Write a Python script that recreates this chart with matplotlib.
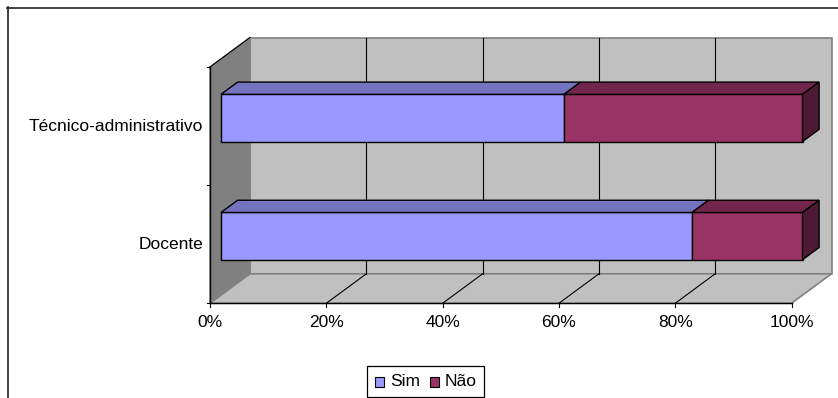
import matplotlib
matplotlib.use("Agg")
import matplotlib.pyplot as plt
from matplotlib.patches import Polygon, Rectangle
from matplotlib.lines import Line2D

# ---- data ----
categories = ["Docente", "Técnico-administrativo"]
sim = [81, 59]
nao = [19, 41]
series_names = ["Sim", "Não"]
x_ticks = [0, 20, 40, 60, 80, 100]
x_tick_labels = ["0%", "20%", "40%", "60%", "80%", "100%"]

# ---- styles ----
front_cols = ["#9999FF", "#993366"]
top_cols = ["#7373BF", "#73264D"]
side_cols = ["#4D4D80", "#4D1A33"]
W, H = 838, 398
FONT = "Liberation Sans"
FS = 12.5

fig = plt.figure(figsize=(W / 100, H / 100), dpi=100)
fig.patch.set_facecolor("white")

# axes covering the front plane of the plot area (pixel placement)
x0, x1 = 210, 791.5
ytop, ybot = 67, 303.3
ax = fig.add_axes([x0 / W, 1 - ybot / H, (x1 - x0) / W, (ybot - ytop) / H])
ax.set_xlim(0, 100)
ax.set_ylim(0, 2)
ax.axis("off")

DX = 40 / ((x1 - x0) / 100)   # depth offset in x units
DY = 29.5 / ((ybot - ytop) / 2)  # depth offset in y units


def P(x, y, d):
    return (x + d * DX, y + d * DY)


def poly(pts, fc, ec, lw=0.8, z=1):
    ax.add_patch(Polygon(pts, closed=True, facecolor=fc, edgecolor=ec,
                         linewidth=lw, clip_on=False, zorder=z))


def line(p, q, c="black", lw=0.8, z=2):
    ax.add_line(Line2D([p[0], q[0]], [p[1], q[1]], color=c, linewidth=lw,
                       clip_on=False, zorder=z))


# back wall
poly([P(0, 0, 1), P(100, 0, 1), P(100, 2, 1), P(0, 2, 1)], "#C0C0C0", "#808080", lw=1.2)
# side wall
poly([P(0, 0, 0), P(0, 0, 1), P(0, 2, 1), P(0, 2, 0)], "#808080", "#808080", lw=1.0)
# floor
poly([P(0, 0, 0), P(100, 0, 0), P(100, 0, 1), P(0, 0, 1)], "#C0C0C0", "#808080", lw=1.2)

# gridlines on back wall and floor
for v in x_ticks[1:-1]:
    line(P(v, 0, 1), P(v, 2, 1), "black", 0.8, 1.5)
    line(P(v, 0, 0), P(v, 0, 1), "black", 0.8, 1.5)
line(P(0, 2, 0), P(0, 2, 1), "black", 0.8, 1.5)

# axis lines
line(P(0, 0, 0), P(0, 2, 0), "black", 1.0, 3)
line(P(0, 0, 0), P(100, 0, 0), "black", 1.0, 3)

# ticks
tx = 3 / ((x1 - x0) / 100)
ty = 4 / ((ybot - ytop) / 2)
for yv in [0, 1, 2]:
    line((0, yv), (-tx, yv), "black", 0.8, 3)
for v, lab in zip(x_ticks, x_tick_labels):
    line((v, 0), (v, -ty), "black", 0.8, 3)
    ax.text(v, -0.163, lab, ha="center", va="center",
            fontsize=FS, family=FONT, clip_on=False)

# category labels
for i, c in enumerate(categories):
    ax.text(-1.15, i + 0.5 - 0.005, c, ha="right", va="center", fontsize=FS,
            family=FONT, clip_on=False)

# bars
bh = 0.4
df, db = 0.275, 0.69
for i in range(len(categories)):
    yc = i + 0.5
    y_lo, y_hi = yc - bh / 2, yc + bh / 2
    left = 0
    vals = [sim[i], nao[i]]
    for s, v in enumerate(vals):
        right = left + v
        # front face
        poly([P(left, y_lo, df), P(right, y_lo, df), P(right, y_hi, df), P(left, y_hi, df)],
             front_cols[s], "black", 1.0, 5)
        # top face
        poly([P(left, y_hi, df), P(right, y_hi, df), P(right, y_hi, db), P(left, y_hi, db)],
             top_cols[s], "black", 1.0, 5)
        if s == len(vals) - 1:
            poly([P(right, y_lo, df), P(right, y_lo, db), P(right, y_hi, db), P(right, y_hi, df)],
                 side_cols[s], "black", 1.0, 5)
        left = right

# outer chart border (top and left visible)
fig.add_artist(Line2D([7 / W, 1.0], [1 - 7.5 / H, 1 - 7.5 / H], color="#222222",
                      linewidth=1.2, transform=fig.transFigure))
fig.add_artist(Line2D([7.5 / W, 7.5 / W], [1 - 7 / H, 0.0], color="#222222",
                      linewidth=1.2, transform=fig.transFigure))

# legend
lx0, lx1, ly0, ly1 = 367, 484, 366, 397
fig.add_artist(Rectangle((lx0 / W, 1 - ly1 / H), (lx1 - lx0) / W, (ly1 - ly0) / H,
                         facecolor="white", edgecolor="black", linewidth=0.9,
                         transform=fig.transFigure))
items = [(375, 390, series_names[0], front_cols[0]), (429.5, 445, series_names[1], front_cols[1])]
for sx, tx_, name, col in items:
    fig.add_artist(Rectangle((sx / W, 1 - 386.7 / H), 9 / W, 9.5 / H, facecolor=col,
                             edgecolor="black", linewidth=0.8, transform=fig.transFigure))
    fig.text(tx_ / W, 1 - 382 / H, name, ha="left", va="center", fontsize=FS, family=FONT)

fig.savefig("out.png", dpi=100, facecolor="white")
